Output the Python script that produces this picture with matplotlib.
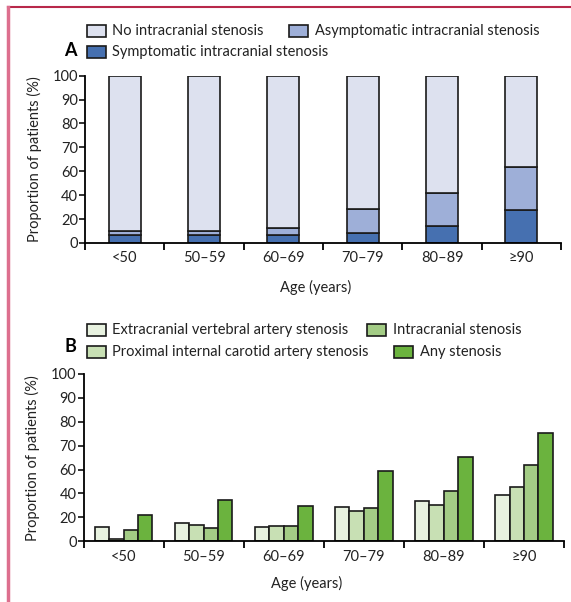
import numpy as np
import matplotlib
matplotlib.use('Agg')
import matplotlib.pyplot as plt
from matplotlib.patches import Rectangle
from matplotlib.lines import Line2D
from matplotlib.transforms import Affine2D

plt.rcParams['font.family'] = ['Lato', 'DejaVu Sans']

# data (percent of patients)
ages = ['<50', '50–59', '60–69', '70–79', '80–89', '≥90']

symptomatic = [6.7, 6.7, 6.7, 8.7, 14.5, 27.3]
asymptomatic = [3.3, 3.3, 5.6, 19.4, 27.6, 34.6]

extracranial_vert = [12.0, 15.3, 12.0, 28.7, 33.5, 39.0]
proximal_ica = [2.0, 14.0, 12.8, 25.4, 30.4, 45.8]
intracranial = [9.8, 10.9, 12.8, 27.6, 42.4, 62.0]
any_stenosis = [22.0, 34.3, 29.9, 58.8, 65.2, 75.3]

# the y axis in the original is not linear: evenly spaced ticks with these labels
ytick_vals = [0, 20, 40, 60, 70, 80, 90, 100]

W, H = 571, 602
fig = plt.figure(figsize=(W / 100, H / 100), dpi=100)
pix = Affine2D().scale(1 / W, -1 / H).translate(0, 1) + fig.transFigure


def fwd(v):
    return np.interp(v, ytick_vals, np.arange(len(ytick_vals)))


def inv(p):
    return np.interp(p, np.arange(len(ytick_vals)), ytick_vals)


def style_axes(ax):
    ax.set_yscale('function', functions=(fwd, inv))
    ax.set_ylim(0, 100)
    ax.set_xlim(-0.5, 5.5)
    ax.set_yticks(ytick_vals)
    ax.set_yticklabels([str(v) for v in ytick_vals])
    ax.yaxis.set_minor_locator(matplotlib.ticker.NullLocator())
    ax.spines['top'].set_visible(False)
    ax.spines['right'].set_visible(False)
    ax.spines['left'].set_bounds(0, 100)
    for s in ['left', 'bottom']:
        ax.spines[s].set_linewidth(1.3)
    ax.set_xticks(np.arange(-0.5, 6, 1))
    ax.set_xticklabels([])
    ax.set_xticks(np.arange(6), minor=True)
    ax.set_xticklabels(ages, minor=True)
    ax.tick_params(axis='x', which='major', direction='out', length=5, width=1.3)
    ax.tick_params(axis='x', which='minor', length=0, pad=6, labelsize=10.5, colors='#222222')
    ax.tick_params(axis='y', direction='out', length=4, width=1.3, pad=1, labelsize=10.5, colors='#222222')
    ax.set_ylabel('Proportion of patients (%)', fontsize=10.5, color='#222222')
    ax.set_xlabel('Age (years)', fontsize=10.5, color='#222222')


x = np.arange(len(ages))
edge = dict(edgecolor='#1a1a1a', linewidth=1.2)

# Panel A
axA = fig.add_axes([85 / W, 1 - 243 / H, 476 / W, 167.3 / H])
sym = np.array(symptomatic)
asym = np.array(asymptomatic)
none = 100 - sym - asym
axA.bar(x, sym, 0.40, color='#4670b0', **edge)
axA.bar(x, asym, 0.40, bottom=sym, color='#9eafd8', **edge)
axA.bar(x, none, 0.40, bottom=sym + asym, color='#dde1ef', **edge)
style_axes(axA)
axA.yaxis.set_label_coords(-0.09, 0.5)
axA.xaxis.set_label_coords(0.484, -0.22)

# Panel B
axB = fig.add_axes([83.5 / W, 1 - 541.3 / H, 480.5 / W, 167.3 / H])
bw = 0.18
series_b = [extracranial_vert, proximal_ica, intracranial, any_stenosis]
colors_b = ['#e8f2e0', '#c8e0b4', '#a3cc85', '#6bb33e']
for i, (vals, c) in enumerate(zip(series_b, colors_b)):
    axB.bar(x + (i - 1.5) * bw, vals, bw, color=c, **edge)
style_axes(axB)
axB.yaxis.set_label_coords(-0.09, 0.5)
axB.xaxis.set_label_coords(0.465, -0.21)


def legend_item(xs, yc, color, label):
    fig.add_artist(Rectangle((xs, yc - 6), 19, 12, transform=pix,
                             facecolor=color, edgecolor='#1a1a1a', linewidth=1.2))
    fig.text(xs + 26, yc, label, transform=pix, va='center', ha='left',
             fontsize=10.5, color='#222222')


legend_item(86.5, 30.7, '#dde1ef', 'No intracranial stenosis')
legend_item(289, 30.7, '#9eafd8', 'Asymptomatic intracranial stenosis')
legend_item(86.5, 52.3, '#4670b0', 'Symptomatic intracranial stenosis')
fig.text(64, 50, 'A', transform=pix, va='center', ha='left', fontsize=13, fontweight='bold')

legend_item(86.5, 329.7, '#e8f2e0', 'Extracranial vertebral artery stenosis')
legend_item(367, 329.7, '#a3cc85', 'Intracranial stenosis')
legend_item(86.5, 351.8, '#c8e0b4', 'Proximal internal carotid artery stenosis')
legend_item(393.5, 351.8, '#6bb33e', 'Any stenosis')
fig.text(64, 347, 'B', transform=pix, va='center', ha='left', fontsize=13, fontweight='bold')

# page frame (top and left rules)
fig.add_artist(Line2D([8, W], [7, 7], transform=pix, color='#b8284a', linewidth=1.5))
fig.add_artist(Line2D([8, 8], [7, H], transform=pix, color='#dd6f8e', linewidth=2.5))

fig.savefig('out.png', dpi=100)
